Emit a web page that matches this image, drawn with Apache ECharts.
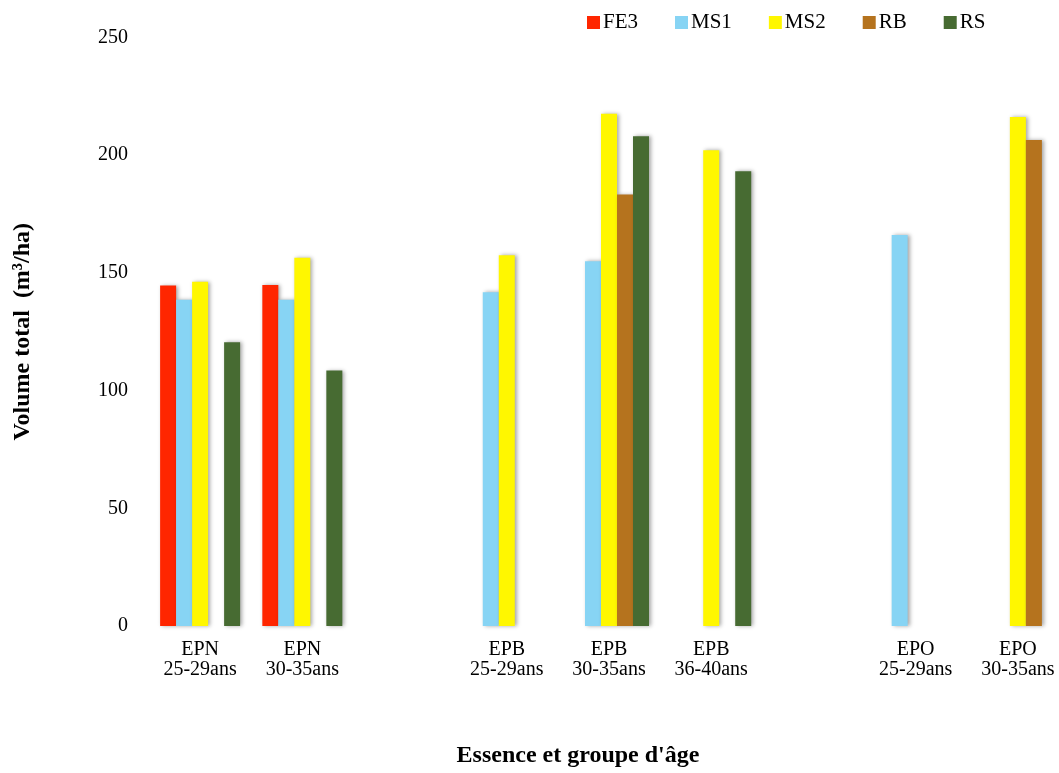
<!DOCTYPE html>
<html>
<head>
<meta charset="utf-8">
<script src="https://cdn.jsdelivr.net/npm/echarts@6/dist/echarts.min.js"></script>
<style>html,body{margin:0;padding:0;background:#fff;overflow:hidden}#c{width:1059px;height:773px}</style>
</head>
<body>
<div id="c"></div>
<script>
const categories = ['EPN\n25-29ans','EPN\n30-35ans','','EPB\n25-29ans','EPB\n30-35ans','EPB\n36-40ans','','EPO\n25-29ans','EPO\n30-35ans'];
const seriesNames = ['FE3','MS1','MS2','RB','RS'];
const FE3 = [144.6, 144.9, null, null, null, null, null, null, null];
const MS1 = [138.6, 138.6, null, 141.8, 155.0, null, null, 166.1, null];
const MS2 = [146.2, 156.4, null, 157.5, 217.6, 202.1, null, null, 216.2];
const RB  = [null, null, null, null, 183.3, null, null, null, 206.5];
const RS  = [120.5, 108.5, null, null, 208.0, 193.2, null, null, null];
const yTicks = [0, 50, 100, 150, 200, 250];
const colors = ['#ff2600', '#87d4f4', '#fff700', '#b5731e', '#476b32'];
const values = [FE3, MS1, MS2, RB, RS];

const chart = echarts.init(document.getElementById('c'), null, {renderer: 'canvas'});
const font = 'Liberation Serif';
chart.setOption({
  animation: false,
  backgroundColor: '#fff',
  textStyle: {fontFamily: font},
  legend: {
    left: 587, top: 12, padding: 0,
    itemWidth: 13, itemHeight: 13, itemGap: 37,
    icon: 'rect',
    textStyle: {fontFamily: font, fontSize: 21, color: '#000', padding: [0, 0, 0, -2]},
    data: seriesNames
  },
  grid: {left: 149, top: 37.5, width: 920, height: 588.5, outerBoundsMode: 'none', containLabel: false},
  xAxis: {
    type: 'category',
    data: categories,
    axisLine: {show: false},
    axisTick: {show: false},
    axisLabel: {color: '#000', fontSize: 20, lineHeight: 20, margin: 14, interval: 0, fontFamily: font},
    name: 'Essence et groupe d\'âge',
    nameLocation: 'middle',
    nameGap: 118,
    nameTextStyle: {fontFamily: font, fontSize: 24, fontWeight: 'bold', color: '#000', padding: [0, 62, 0, 0]}
  },
  yAxis: {
    type: 'value',
    min: yTicks[0], max: yTicks[yTicks.length - 1], interval: 50,
    axisLine: {show: false},
    axisTick: {show: false},
    splitLine: {show: false},
    axisLabel: {color: '#000', fontSize: 20, margin: 21, fontFamily: font},
    name: 'Volume total  (m³/ha)',
    nameLocation: 'middle',
    nameRotate: 90,
    nameGap: 114,
    nameTextStyle: {fontFamily: font, fontSize: 24, fontWeight: 'bold', color: '#000'}
  },
  series: seriesNames.map((n, i) => ({
    name: n,
    type: 'bar',
    data: values[i],
    barWidth: 16,
    barGap: '0%',
    itemStyle: {
      color: colors[i],
      shadowColor: 'rgba(0,0,0,0.35)',
      shadowBlur: 4,
      shadowOffsetX: 2,
      shadowOffsetY: 0
    }
  }))
});
</script>
</body>
</html>
